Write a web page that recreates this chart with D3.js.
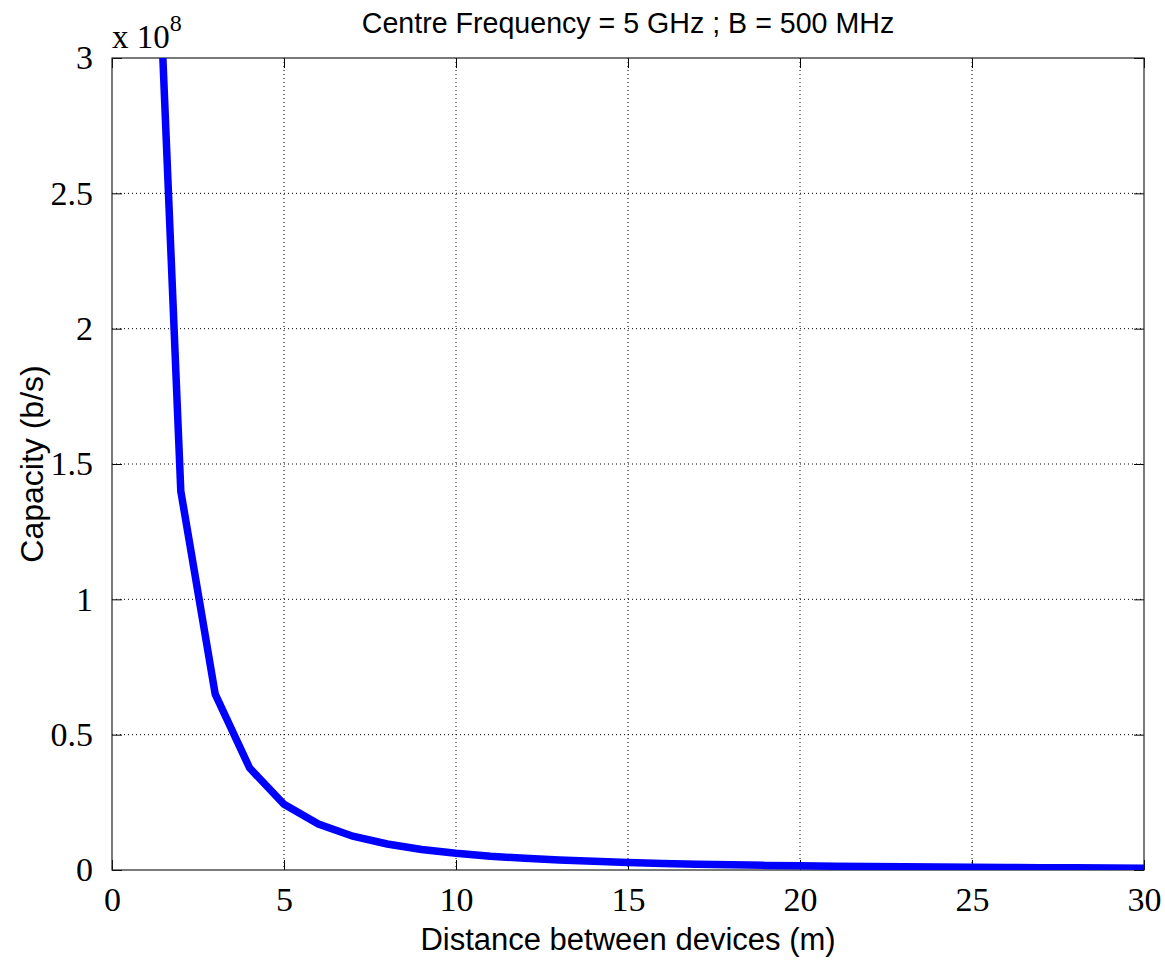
<!DOCTYPE html>
<html><head><meta charset="utf-8">
<script src="https://d3js.org/d3.v7.min.js"></script>
<style>body{margin:0;background:#fff}</style>
</head><body>
<svg id="c" width="1165" height="965"></svg>
<script>
const distance = [1,2,3,4,5,6,7,8,9,10,11,12,13,14,15,16,17,18,19,20,21,22,23,24,25,26,27,28,29,30];
const capacityE8 = [4.47,1.40,0.65,0.377,0.243,0.17,0.125,0.096,0.076,0.062,0.051,0.043,0.037,0.032,0.028,0.024,0.021,0.019,0.017,0.016,0.014,0.013,0.012,0.011,0.010,0.0092,0.0085,0.0079,0.0073,0.0069];
const xTicks = [0,5,10,15,20,25,30];
const yTicks = [0,0.5,1,1.5,2,2.5,3];
const title = "Centre Frequency = 5 GHz ; B = 500 MHz";
const xLabel = "Distance between devices (m)";
const yLabel = "Capacity (b/s)";

const L=112,R=1144,T=58,B=870;
const svg=d3.select("#c");
const x=d3.scaleLinear().domain([0,30]).range([L,R]);
const y=d3.scaleLinear().domain([0,3]).range([B,T]);

svg.append("defs").append("clipPath").attr("id","clip").append("rect")
  .attr("x",L).attr("y",T).attr("width",R-L).attr("height",B-T);

// grid
const g=svg.append("g");
g.selectAll(".vx").data(xTicks.slice(1,-1)).join("line")
  .attr("x1",d=>x(d)).attr("x2",d=>x(d)).attr("y1",T).attr("y2",B)
  .attr("stroke","#000").attr("stroke-width",1).attr("stroke-dasharray","1,3");
g.selectAll(".hy").data(yTicks.slice(1,-1)).join("line")
  .attr("y1",d=>y(d)).attr("y2",d=>y(d)).attr("x1",L).attr("x2",R)
  .attr("stroke","#000").attr("stroke-width",1).attr("stroke-dasharray","1,3");

// axes with inward ticks
const tickFont="'Liberation Serif','Times New Roman',serif";
function styleAxis(sel){sel.select(".domain").remove();sel.selectAll("line").attr("stroke","#000");}
const xb=svg.append("g").attr("transform",`translate(0,${B})`)
  .call(d3.axisBottom(x).tickValues(xTicks).tickSizeInner(-10).tickSizeOuter(0).tickPadding(17).tickFormat(d3.format("d")));
styleAxis(xb);
xb.selectAll("text").attr("font-family",tickFont).attr("font-size",34).attr("fill","#000");
const xt=svg.append("g").attr("transform",`translate(0,${T})`)
  .call(d3.axisTop(x).tickValues(xTicks).tickSizeInner(-10).tickSizeOuter(0).tickFormat(""));
styleAxis(xt);
const yl=svg.append("g").attr("transform",`translate(${L},0)`)
  .call(d3.axisLeft(y).tickValues(yTicks).tickSizeInner(-10).tickSizeOuter(0).tickPadding(19).tickFormat(d=>String(d)));
styleAxis(yl);
yl.selectAll("text").attr("font-family",tickFont).attr("font-size",34).attr("fill","#000");
const yr=svg.append("g").attr("transform",`translate(${R},0)`)
  .call(d3.axisRight(y).tickValues(yTicks).tickSizeInner(-10).tickSizeOuter(0).tickFormat(""));
styleAxis(yr);

// box
svg.append("rect").attr("x",L).attr("y",T).attr("width",R-L).attr("height",B-T)
  .attr("fill","none").attr("stroke","#222").attr("stroke-width",1.2);

// curve
const pts=distance.map((d,i)=>[d,capacityE8[i]]);
svg.append("path").datum(pts).attr("clip-path","url(#clip)")
  .attr("d",d3.line().x(d=>x(d[0])).y(d=>y(d[1])))
  .attr("fill","none").attr("stroke","#0000ff").attr("stroke-width",7.5).attr("stroke-linejoin","miter");

// exponent
const ex=svg.append("text").attr("x",L).attr("y",48).attr("font-family",tickFont).attr("font-size",33).attr("fill","#000");
ex.append("tspan").text("x 10");
ex.append("tspan").attr("dy",-17).attr("font-size",24).text("8");

const sans="'Liberation Sans',Arial,sans-serif";
svg.append("text").attr("x",(L+R)/2).attr("y",33).attr("text-anchor","middle")
  .attr("font-family",sans).attr("font-size",28.6).attr("fill","#000").text(title);
svg.append("text").attr("x",(L+R)/2).attr("y",950).attr("text-anchor","middle")
  .attr("font-family",sans).attr("font-size",31).attr("fill","#000").text(xLabel);
svg.append("text").attr("transform",`translate(43,${(T+B)/2}) rotate(-90)`).attr("text-anchor","middle")
  .attr("font-family",sans).attr("font-size",32).attr("fill","#000").text(yLabel);
</script>
</body></html>
